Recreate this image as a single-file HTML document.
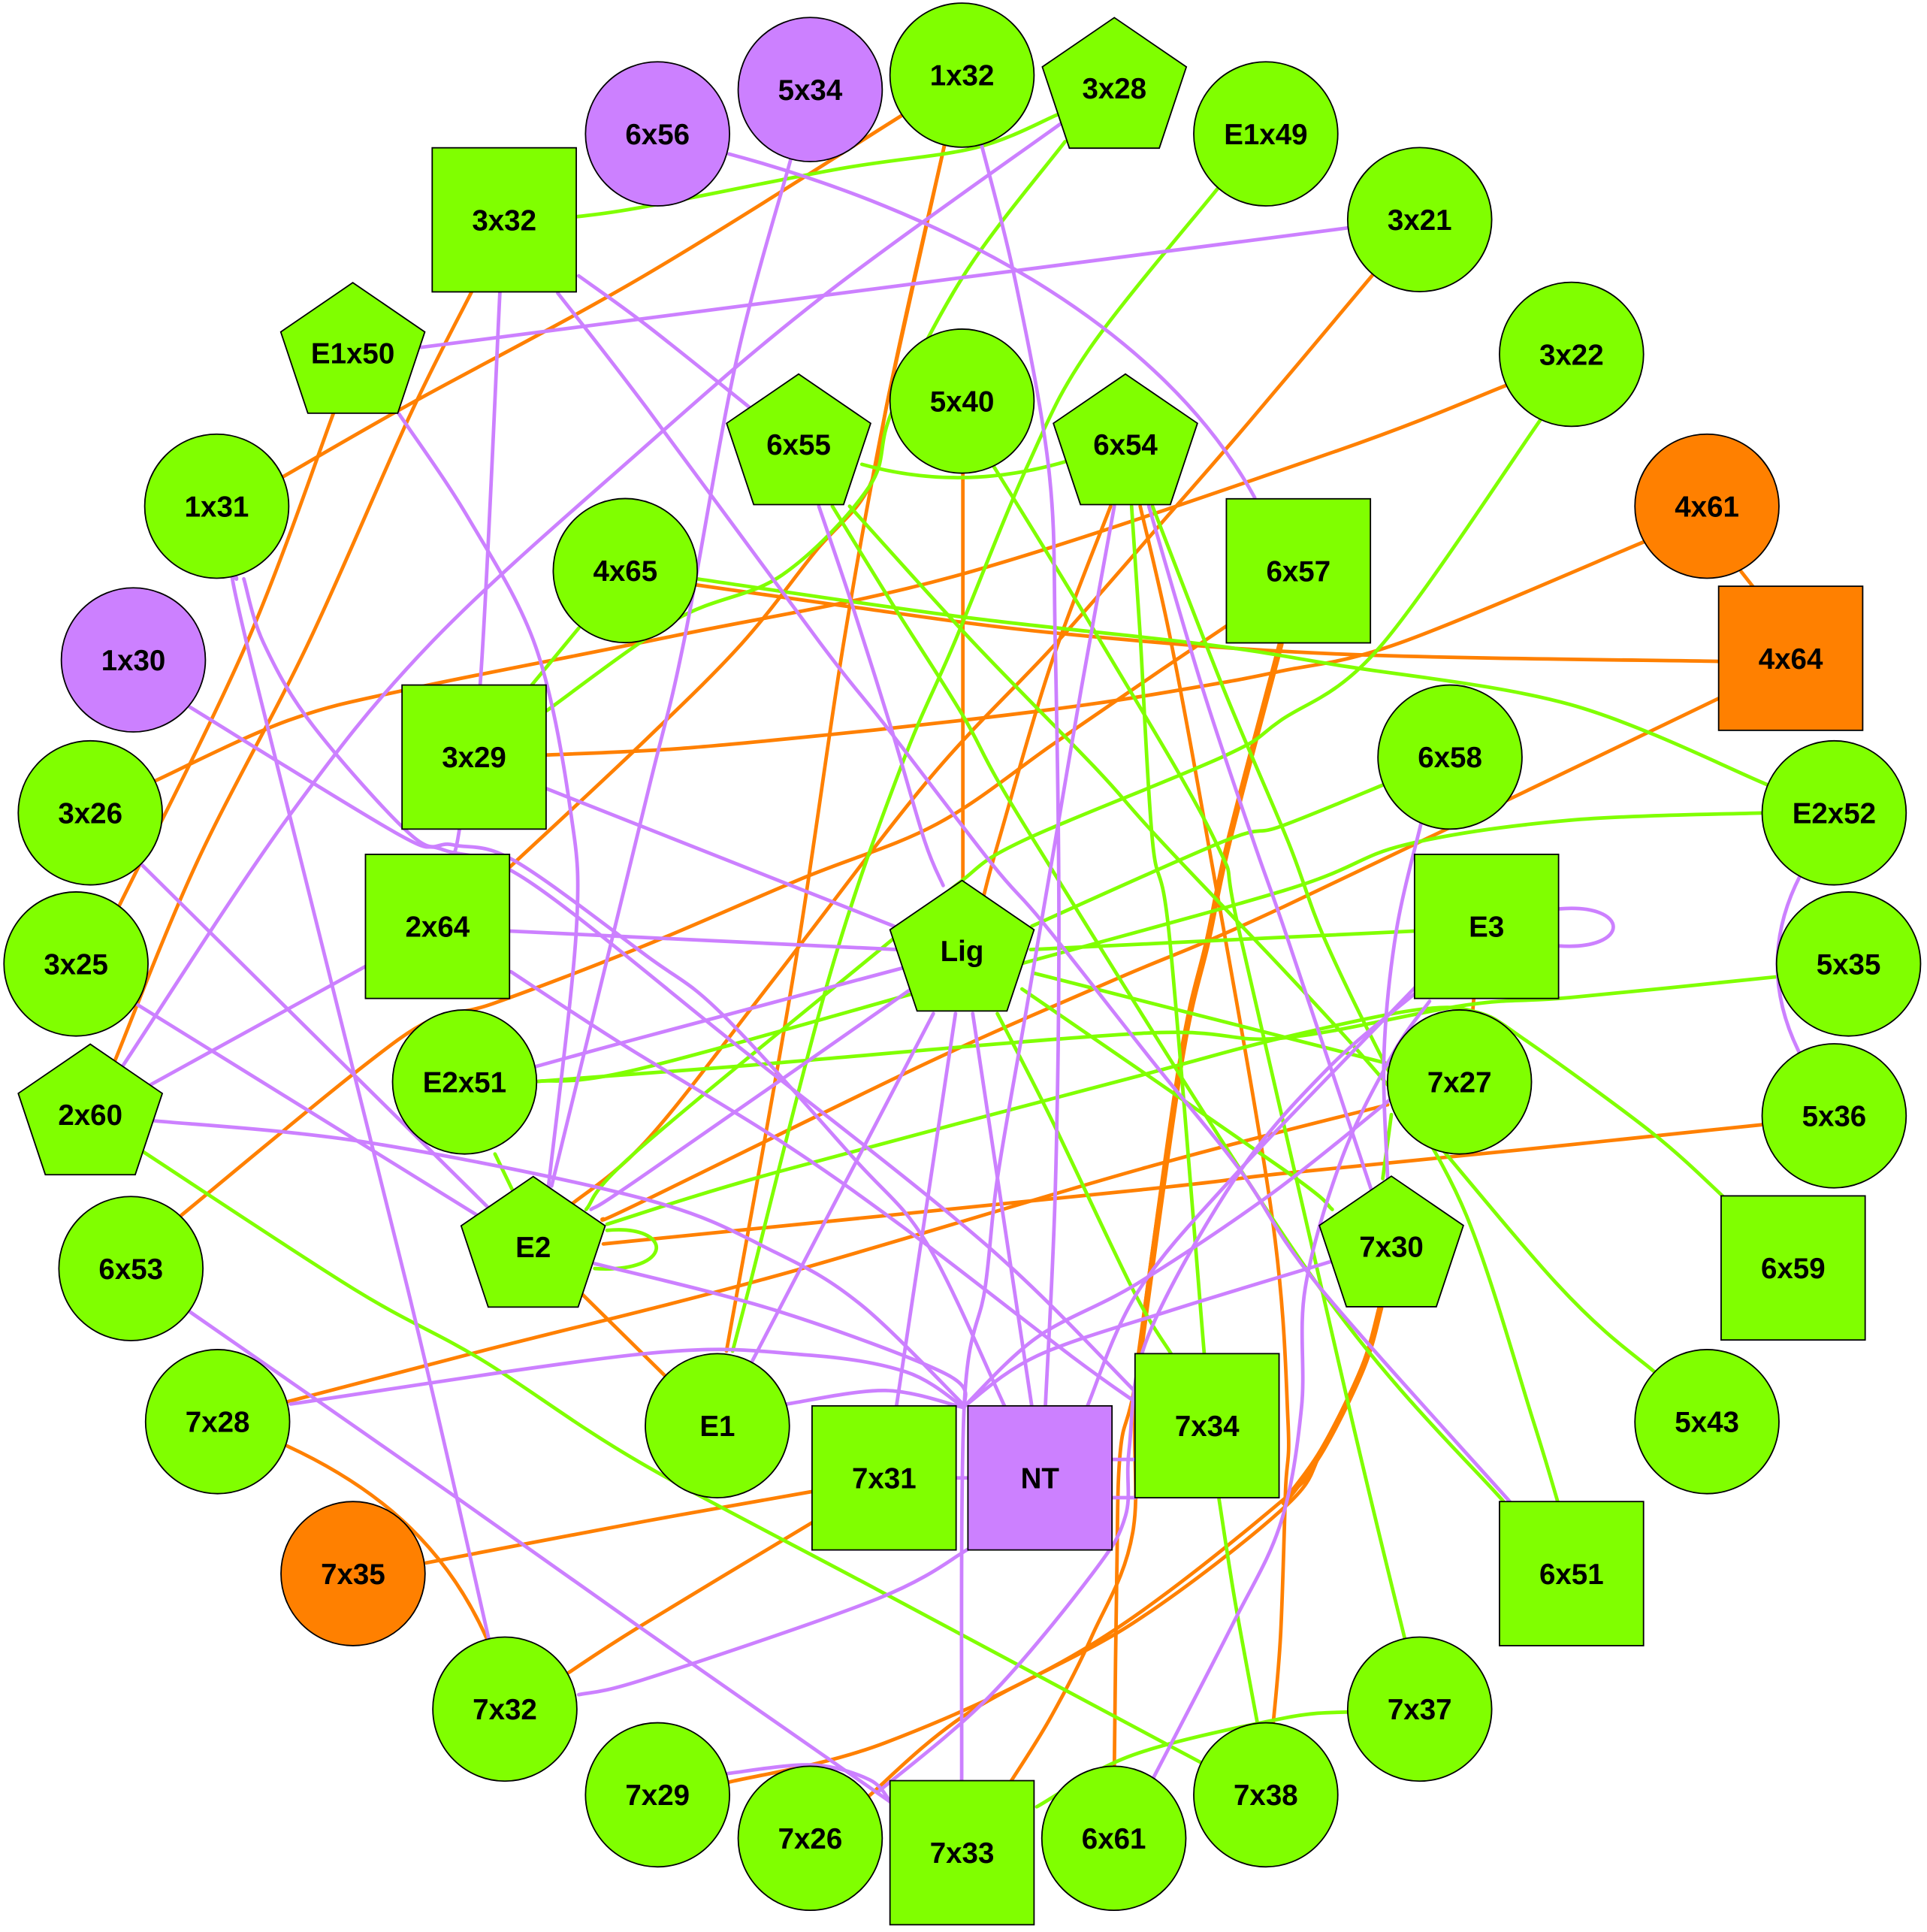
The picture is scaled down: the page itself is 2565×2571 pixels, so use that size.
<!DOCTYPE html>
<html><head><meta charset="utf-8"><style>
html,body{margin:0;padding:0;background:#fff;}
svg{display:block}
text{font-family:"Liberation Sans",Arial,sans-serif;font-weight:bold;font-size:23.5px;text-anchor:middle;fill:#000}
</style></head><body>
<svg xmlns="http://www.w3.org/2000/svg" width="2565" height="2571" viewBox="0 0 1565 1568.7">
<rect x="0" y="0" width="1565" height="1568.7" fill="#fff"/>
<g class="e" fill="none" stroke-width="2.9" stroke-linejoin="round" stroke-linecap="round">
<g stroke="#ff8000">
<path d="M732,94 L523,224 L333,328 L230,387"/>
<path d="M767,118 L722,320 L685,523 L645,788 L590,1097"/>
<path d="M767,118 L722,320 L706,395 L662,448 L602,523 L523,602 L414,704"/>
<path d="M383,237 L333,337 L250,523 L160,700 L93,862"/>
<path d="M271,335 L200,523 L97,735"/>
<path d="M1115,223 L1015,342 L943,425 L857,523 L755,632 L630,793 L527,924 L464,978"/>
<path d="M1223,313 L1086,366 L782,466 L549,516 L335,559 L234,585 L126,634"/>
<path d="M1414,464 L1425,478"/>
<path d="M1335,440 L1137,522 L1040,545 L977,557 L891,571 L789,584 L669,597 L549,608 L444,613"/>
<path d="M1396,537 L1086,531 L857,514 L686,492 L566,475"/>
<path d="M1396,567 L1043,736 L904,796 L753,863 L519,977 L489,990"/>
<path d="M782,385 L782,715"/>
<path d="M902,411 L854,538 L811,683 L799,727"/>
<path d="M926,411 L950,516 L981,683 L1033,987 L1046,1153 L1044,1211 L1040,1328 L1034,1400"/>
<path d="M1040,523 L998,683 L981,763 L959,862 L924,1111 L910,1177 L907,1278 L905,1434"/>
<path d="M1040,523 L998,683 L981,763 L959,862 L924,1111 L920,1244 L887,1328 L853,1395 L820,1448"/>
<path d="M1040,523 L998,683 L981,763 L959,862 L924,1111" stroke-width="5"/>
<path d="M1121,1062 L1107,1110 L1074,1177 L1043,1217 L887,1335 L719,1415 L592,1447"/>
<path d="M1121,1062 L1107,1110 L1074,1177 L1043,1224 L920,1318 L786,1391 L706,1458"/>
<path d="M1121,1062 L1107,1110 L1074,1177 L1043,1220" stroke-width="5"/>
<path d="M1127,897 L927,949 L630,1036 L391,1097 L234,1138"/>
<path d="M1433,913 L1241,933 L1040,953 L927,966 L490,1010"/>
<path d="M472,1050 L541,1118"/>
<path d="M660,1211 L525,1235 L346,1269"/>
<path d="M660,1236 L519,1321 L462,1358"/>
<path d="M233,1174 C300,1205 360,1250 396,1332"/>
<path d="M1197,810 L1196,822"/>
<path d="M147,987 L287,872 L350,828 L400,815 L523,768 L652,713 L761,669 L857,603 L943,544 L998,507"/>
</g>
<g stroke="#80ff00">
<path d="M468,176 L523,168 L682,137 L792,120 L859,93"/>
<path d="M865,115 L785,220 L725,333 L706,395 L635,467 L549,503 L444,577"/>
<path d="M989,153 L885,283 L835,377 L775,522 L732,622 L675,788 L608,1047 L595,1097"/>
<path d="M1251,341 L1121,525 L1040,585 L994,614 L830,683 L780,716 L733,756 L519,933 L476,982"/>
<path d="M470,510 L432,556"/>
<path d="M566,470 L782,501 L977,523 L1086,540 L1275,572 L1435,637"/>
<path d="M700,377 Q782,400 868,374"/>
<path d="M676,411 L727,494 L782,581 L840,683 L1070,1043 L1221,1219"/>
<path d="M690,411 L789,520 L891,625 L943,683 L1100,850 L1265,1043 L1345,1115"/>
<path d="M806,377 L891,516 L987,683 L1008,763 L1098,1153 L1141,1331"/>
<path d="M919,411 L926,516 L936,683 L950,763 L978,1099"/>
<path d="M936,411 L994,560 L1046,683 L1076,763 L1128,870 L1191,987 L1245,1153 L1265,1219"/>
<path d="M837,771 L1043,761 L1149,756"/>
<path d="M839,790 L1125,863"/>
<path d="M810,823 L853,907 L920,1047 L951,1099"/>
<path d="M437,878 L596,866 L927,839 L1040,843 L1191,816 L1275,810 L1444,793"/>
<path d="M1433,660 L1275,666 L1141,686 L1043,723 L780,796 L519,868 L437,878"/>
<path d="M493,994 L630,952 L927,873 L1040,843 L1150,820 L1200,822 L1241,846 L1342,920 L1400,972"/>
<path d="M1124,637 L1040,671 L994,683 L838,752"/>
<path d="M402,937 L417,968"/>
<path d="M493,999 C548,994 548,1034 483,1030"/>
<path d="M116,935 L288,1047 L391,1104 L519,1187 L713,1291 L977,1432"/>
<path d="M842,1467 L920,1425 L1043,1395 L1096,1390"/>
<path d="M830,803 L1043,950 L1082,982"/>
<path d="M1130,905 L1123,957"/>
<path d="M990,1217 L1003,1300 L1021,1398"/>
</g>
<g stroke="#cc80ff">
<path d="M592,125 C760,170 940,260 1019,404"/>
<path d="M642,130 L598,293 L555,523 L525,648 L448,963"/>
<path d="M797,117 L825,230 L852,383 L857,522 L860,755 L857,968 L849,1142"/>
<path d="M862,100 L669,240 L519,367 L350,522 L233,665 L100,865"/>
<path d="M342,282 L1095,185"/>
<path d="M324,336 L380,420 L435,525 L463,656 L468,756 L445,967"/>
<path d="M470,224 L525,264 L609,331"/>
<path d="M453,238 L525,331 L666,522 L719,589 L806,702 L847,749 L937,863 L1007,950 L1070,1043 L1226,1219"/>
<path d="M406,237 L390,555 L373,674 L368,694"/>
<path d="M192,469 L201,525 L331,1046 L397,1331"/>
<path d="M198,470 L214,522 L254,589 L335,679 L368,686 L418,699 L525,776 L586,823 L693,940 L753,1010 L816,1142"/>
<path d="M154,574 L321,676 L360,690 L430,716 L600,850 L800,1010 L923,1131"/>
<path d="M443,640 L726,752"/>
<path d="M414,756 L729,771"/>
<path d="M298,784 L120,882"/>
<path d="M112,816 L388,987"/>
<path d="M115,702 L398,982"/>
<path d="M125,910 L301,928 L525,974 L630,1017 L700,1060 L783,1141"/>
<path d="M154,1065 L368,1214 L525,1325 L723,1463"/>
<path d="M483,1026 L630,1064 L767,1115 L784,1140"/>
<path d="M639,1140 L719,1129 L783,1143"/>
<path d="M236,1140 L525,1099 L653,1100 L736,1114 L783,1143"/>
<path d="M470,1376 L525,1363 L713,1298 L786,1258"/>
<path d="M905,411 L878,560 L857,683 L833,823 L810,957 L800,1046 L783,1143 L781,1447"/>
<path d="M933,411 L977,560 L1018,683 L1046,763 L1114,967"/>
<path d="M1154,669 L1134,756 L1124,856 L1127,957"/>
<path d="M1462,711 Q1425,783 1462,856"/>
<path d="M1266,738 C1325,733 1325,772 1266,768"/>
<path d="M1161,813 L1131,856 L1090,940 L1060,1046 L1057,1143 L1040,1237 L1000,1321 L937,1443"/>
<path d="M1150,801 L1003,954 L924,1049 L883,1142"/>
<path d="M1150,806 L1079,867 L1005,954 L932,1086 L917,1177 L914,1231 L887,1278 L803,1378 L713,1455"/>
<path d="M1130,892 L1033,969 L924,1042 L842,1086 L783,1142"/>
<path d="M1082,1024 L951,1064 L842,1101 L783,1142"/>
<path d="M665,411 L693,494 L724,592 L751,683 L766,719"/>
<path d="M733,786 L519,843 L435,866"/>
<path d="M740,803 L519,957 L480,982"/>
<path d="M758,823 L611,1105"/>
<path d="M776,823 L728,1142"/>
<path d="M790,823 L838,1142"/>
<path d="M776,1200 L786,1200"/>
<path d="M903,1185 L922,1185 M903,1216 L922,1216"/>
<path d="M415,789 L504,847 L630,924 L733,996 L870,1101 L923,1139"/>
<path d="M591,1440 L659,1433 L706,1445 L723,1463"/>
</g>
</g>
<g stroke="#000" stroke-width="1.1">
<circle cx="534" cy="108.7" r="58.5" fill="#cc80ff"/>
<circle cx="658" cy="72.7" r="58.5" fill="#cc80ff"/>
<circle cx="781.3" cy="61" r="58.5" fill="#80ff00"/>
<circle cx="1028" cy="108.7" r="58.5" fill="#80ff00"/>
<circle cx="1153" cy="178.3" r="58.5" fill="#80ff00"/>
<circle cx="1276.3" cy="287.7" r="58.5" fill="#80ff00"/>
<circle cx="1386.3" cy="411" r="58.5" fill="#ff8000"/>
<circle cx="1489.6" cy="660" r="58.5" fill="#80ff00"/>
<circle cx="1501.3" cy="782.7" r="58.5" fill="#80ff00"/>
<circle cx="1489.6" cy="906" r="58.5" fill="#80ff00"/>
<circle cx="1386.3" cy="1154.3" r="58.5" fill="#80ff00"/>
<circle cx="1153" cy="1387.7" r="58.5" fill="#80ff00"/>
<circle cx="1028" cy="1457.3" r="58.5" fill="#80ff00"/>
<circle cx="904.6" cy="1492.6" r="58.5" fill="#80ff00"/>
<circle cx="658" cy="1492.6" r="58.5" fill="#80ff00"/>
<circle cx="534" cy="1457.3" r="58.5" fill="#80ff00"/>
<circle cx="410" cy="1387.7" r="58.5" fill="#80ff00"/>
<circle cx="286.7" cy="1277.7" r="58.5" fill="#ff8000"/>
<circle cx="176.7" cy="1154.3" r="58.5" fill="#80ff00"/>
<circle cx="106.3" cy="1030" r="58.5" fill="#80ff00"/>
<circle cx="61.7" cy="782.7" r="58.5" fill="#80ff00"/>
<circle cx="73.3" cy="660" r="58.5" fill="#80ff00"/>
<circle cx="108.3" cy="535.8" r="58.5" fill="#cc80ff"/>
<circle cx="176" cy="411" r="58.5" fill="#80ff00"/>
<circle cx="781.3" cy="325.7" r="58.5" fill="#80ff00"/>
<circle cx="507.8" cy="463.3" r="58.5" fill="#80ff00"/>
<circle cx="1177.6" cy="614.7" r="58.5" fill="#80ff00"/>
<circle cx="377.3" cy="878.5" r="58.5" fill="#80ff00"/>
<circle cx="1185.3" cy="878.5" r="58.5" fill="#80ff00"/>
<circle cx="582.6" cy="1157.6" r="58.5" fill="#80ff00"/>
<rect x="351" y="120" width="117" height="117" fill="#80ff00"/>
<rect x="996" y="405" width="117" height="117" fill="#80ff00"/>
<rect x="1395.8" y="476" width="117" height="117" fill="#ff8000"/>
<rect x="326.5" y="556.2" width="117" height="117" fill="#80ff00"/>
<rect x="296.8" y="693.7" width="117" height="117" fill="#80ff00"/>
<rect x="1148.8" y="693.7" width="117" height="117" fill="#80ff00"/>
<rect x="1397.8" y="971" width="117" height="117" fill="#80ff00"/>
<rect x="1217.8" y="1219.2" width="117" height="117" fill="#80ff00"/>
<rect x="659.5" y="1141.5" width="117" height="117" fill="#80ff00"/>
<rect x="786.1" y="1141.5" width="117" height="117" fill="#cc80ff"/>
<rect x="921.8" y="1099.1" width="117" height="117" fill="#80ff00"/>
<rect x="722.8" y="1445.8" width="117" height="117" fill="#80ff00"/>
<polygon points="905,14.3 963.5,54.3 941.5,120.3 868.5,120.3 846.5,54.3" fill="#80ff00"/>
<polygon points="286.5,229.5 345,269.5 323,335.5 250,335.5 228,269.5" fill="#80ff00"/>
<polygon points="648.6,303.7 707.1,343.7 685.1,409.7 612.1,409.7 590.1,343.7" fill="#80ff00"/>
<polygon points="914,303.7 972.5,343.7 950.5,409.7 877.5,409.7 855.5,343.7" fill="#80ff00"/>
<polygon points="73.3,847.8 131.8,887.8 109.8,953.8 36.8,953.8 14.8,887.8" fill="#80ff00"/>
<polygon points="781.3,714.9 839.8,754.9 817.8,820.9 744.8,820.9 722.8,754.9" fill="#80ff00"/>
<polygon points="433,955.3 491.5,995.3 469.5,1061.3 396.5,1061.3 374.5,995.3" fill="#80ff00"/>
<polygon points="1130,955 1188.5,995 1166.5,1061 1093.5,1061 1071.5,995" fill="#80ff00"/>
</g>
<g>
<text x="534" y="117.1">6x56</text>
<text x="658" y="81.1">5x34</text>
<text x="781.3" y="69.4">1x32</text>
<text x="1028" y="117.1">E1x49</text>
<text x="1153" y="186.7">3x21</text>
<text x="1276.3" y="296.1">3x22</text>
<text x="1386.3" y="419.4">4x61</text>
<text x="1489.6" y="668.4">E2x52</text>
<text x="1501.3" y="791.1">5x35</text>
<text x="1489.6" y="914.4">5x36</text>
<text x="1386.3" y="1162.7">5x43</text>
<text x="1153" y="1396.1">7x37</text>
<text x="1028" y="1465.7">7x38</text>
<text x="904.6" y="1501">6x61</text>
<text x="658" y="1501">7x26</text>
<text x="534" y="1465.7">7x29</text>
<text x="410" y="1396.1">7x32</text>
<text x="286.7" y="1286.1">7x35</text>
<text x="176.7" y="1162.7">7x28</text>
<text x="106.3" y="1038.4">6x53</text>
<text x="61.7" y="791.1">3x25</text>
<text x="73.3" y="668.4">3x26</text>
<text x="108.3" y="544.2">1x30</text>
<text x="176" y="419.4">1x31</text>
<text x="781.3" y="334.1">5x40</text>
<text x="507.8" y="471.7">4x65</text>
<text x="1177.6" y="623.1">6x58</text>
<text x="377.3" y="886.9">E2x51</text>
<text x="1185.3" y="886.9">7x27</text>
<text x="582.6" y="1166">E1</text>
<text x="409.5" y="186.9">3x32</text>
<text x="1054.5" y="471.9">6x57</text>
<text x="1454.3" y="542.9">4x64</text>
<text x="385" y="623.1">3x29</text>
<text x="355.3" y="760.6">2x64</text>
<text x="1207.3" y="760.6">E3</text>
<text x="1456.3" y="1037.9">6x59</text>
<text x="1276.3" y="1286.1">6x51</text>
<text x="718" y="1208.4">7x31</text>
<text x="844.6" y="1208.4">NT</text>
<text x="980.3" y="1166">7x34</text>
<text x="781.3" y="1512.7">7x33</text>
<text x="905" y="79.9">3x28</text>
<text x="286.5" y="295.1">E1x50</text>
<text x="648.6" y="369.3">6x55</text>
<text x="914" y="369.3">6x54</text>
<text x="73.3" y="913.4">2x60</text>
<text x="781.3" y="780.5">Lig</text>
<text x="433" y="1020.9">E2</text>
<text x="1130" y="1020.6">7x30</text>
</g>
</svg>
<script>
(function(){
  var paths=document.querySelectorAll('g.e path');
  for(var k=0;k<paths.length;k++){
    var p=paths[k];
    var d=p.getAttribute('d');
    if(/[CQ]/.test(d)) continue;
    if((d.match(/M/g)||[]).length!==1) continue;
    var nums=d.replace(/[ML]/g,' ').trim().split(/[\s,]+/).map(Number);
    var pts=[];
    for(var i=0;i+1<nums.length;i+=2) pts.push([nums[i],nums[i+1]]);
    if(pts.length<3) continue;
    var s='M'+pts[0][0]+','+pts[0][1];
    for(var j=0;j<pts.length-1;j++){
      var p0=pts[j-1]||pts[j], p1=pts[j], p2=pts[j+1], p3=pts[j+2]||p2;
      var c1x=p1[0]+(p2[0]-p0[0])/6, c1y=p1[1]+(p2[1]-p0[1])/6;
      var c2x=p2[0]-(p3[0]-p1[0])/6, c2y=p2[1]-(p3[1]-p1[1])/6;
      s+=' C'+c1x.toFixed(1)+','+c1y.toFixed(1)+' '+c2x.toFixed(1)+','+c2y.toFixed(1)+' '+p2[0]+','+p2[1];
    }
    p.setAttribute('d',s);
  }
})();
</script>
</body></html>
